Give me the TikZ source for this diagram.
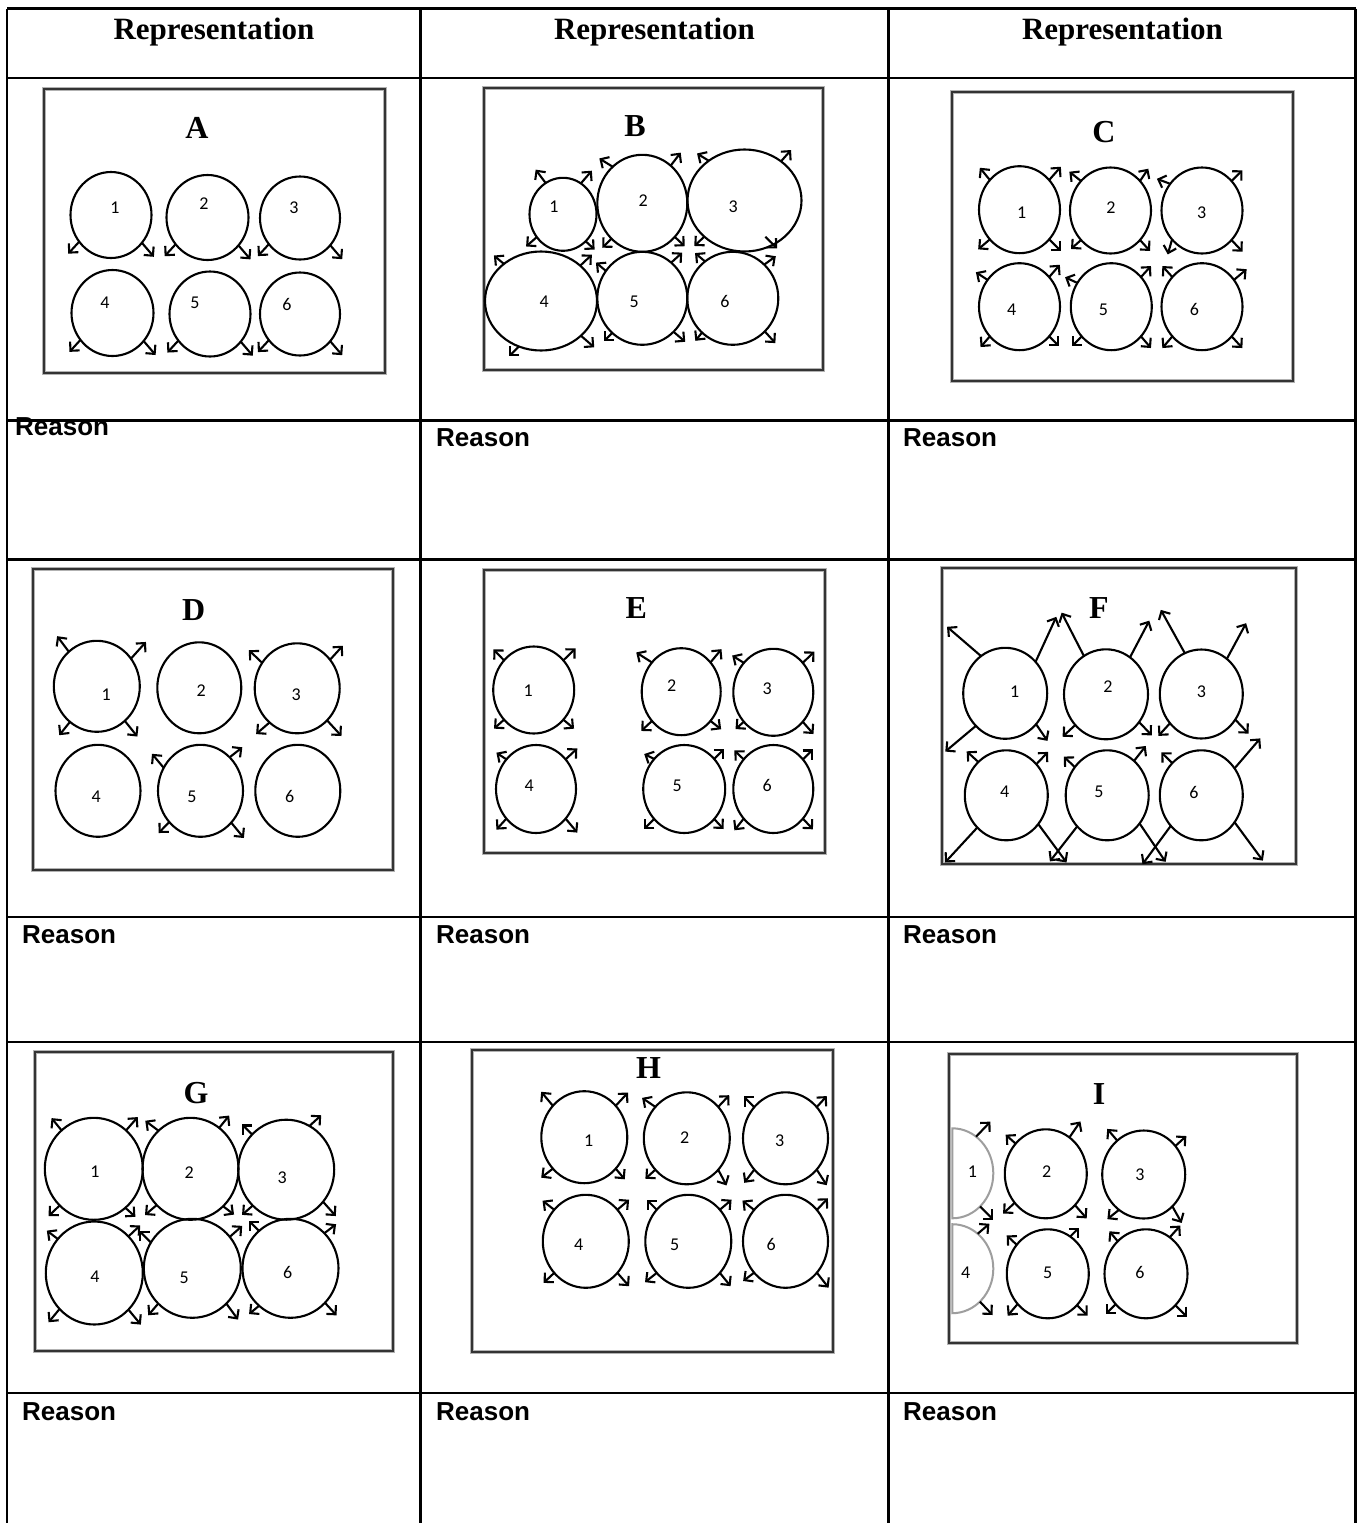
\documentclass[tikz,border=0pt]{standalone}
\usepackage{fontspec}
\setmainfont{Liberation Serif}
\newfontfamily\rsans{Liberation Sans}
\newfontfamily\numf{Carlito}
\usetikzlibrary{shapes.geometric,arrows.meta,calc}
\tikzset{
  cel/.style={ellipse, draw, line width=2.1pt, inner sep=0pt, outer sep=0pt},
  ghost/.style={ellipse, draw=none, inner sep=0pt, outer sep=0pt},
  halfc/.style={draw=black!38, line width=2pt},
  arr/.style={line width=2.1pt, -{Straight Barb[length=6.5pt,width=13pt]}},
  numtxt/.style={font=\numf\fontsize{18}{18}\selectfont, inner sep=0pt},
  ltr/.style={font=\bfseries\fontsize{32}{32}\selectfont, inner sep=0pt, anchor=base},
  hdr/.style={font=\bfseries\fontsize{31}{31}\selectfont, inner sep=0pt, anchor=base},
  rsn/.style={font=\rsans\bfseries\fontsize{26}{26}\selectfont, inner sep=0pt, anchor=base west},
  tbl/.style={line width=2.3pt, black},
  pshadow/.style={draw=black!30, line width=3.8pt},
  pline/.style={draw=black!80, line width=1.8pt},
}
\newcommand\Cir[5]{\node[cel, minimum width=#4pt, minimum height=#5pt] (#1) at (#2,#3) {};}
\newcommand\Num[4]{\node[numtxt] (n#1) at (#2,#3) {#4};}
\newcommand\Arws[2]{\foreach \a/\dx/\dy in {#2}{\draw[arr] (#1.\a) -- ++(\dx,\dy);}}
\newcommand\Pbox[5]{\draw[pshadow] (#2,#3) rectangle (#4,#5); \draw[pline] (#2,#3) rectangle (#4,#5);
  \coordinate (#1) at (#2,#3);}
\begin{document}
\begin{tikzpicture}[x=1pt,y=-1pt]
\useasboundingbox (0,0) rectangle (1363,1523);
\fill[white] (0,0) rectangle (1363,1523);

% ---------- texts ----------
\node[hdr] (h1) at (214,39.5) {Representation};
\node[hdr] (h2) at (654.5,39.5) {Representation};
\node[hdr] (h3) at (1122.5,39.5) {Representation};

\node[rsn] (r11) at (15,435) {Reason};
\node[rsn] (r12) at (436,446.5) {Reason};
\node[rsn] (r13) at (903,446.5) {Reason};
\node[rsn] (r21) at (22,943.5) {Reason};
\node[rsn] (r22) at (436,943.5) {Reason};
\node[rsn] (r23) at (903,943.5) {Reason};
\node[rsn] (r31) at (22,1420.5) {Reason};
\node[rsn] (r32) at (436,1420.5) {Reason};
\node[rsn] (r33) at (903,1420.5) {Reason};

% ---------- table ----------
\foreach \yy in {8.5,78,420.5,559.5,917,1042,1393}{\draw[tbl] (7,\yy) -- (1355.5,\yy);}
\foreach \xx in {7,420.5,888.5,1355.5}{\draw[tbl] (\xx,8.5) -- (\xx,1523);}

% ---------- panel boxes ----------
\Pbox{pA}{44}{89}{385}{373.3}
\Pbox{pB}{484}{88.3}{823.3}{370}
\Pbox{pC}{951.7}{92}{1293.3}{380.7}
\Pbox{pD}{33}{569}{393}{870}
\Pbox{pE}{484}{570}{825}{853.3}
\Pbox{pF}{942}{568}{1296.3}{863.7}
\Pbox{pG}{35}{1052}{393.3}{1351.3}
\Pbox{pH}{472}{1050}{833}{1351.7}
\Pbox{pI}{949}{1054}{1296.7}{1343.3}

% ---------- panel letters ----------
\node[ltr] (LA) at (197,138) {A};
\node[ltr] (LB) at (635,136.7) {B};
\node[ltr] (LC) at (1104,142) {C};
\node[ltr] (LD) at (193.7,620) {D};
\node[ltr] (LE) at (636.3,618.3) {E};
\node[ltr] (LF) at (1099,618.7) {F};
\node[ltr] (LG) at (196,1103) {G};
\node[ltr] (LH) at (648.5,1078) {H};
\node[ltr] (LI) at (1099,1104) {I};

% ---------- A ----------
\Cir{A1}{111}{215}{81}{86}
\Cir{A2}{207.5}{217.5}{82}{85}
\Cir{A3}{300}{218}{80}{83}
\Cir{A4}{112.5}{313}{82}{86}
\Cir{A5}{210}{314}{81}{85}
\Cir{A6}{300}{314}{80}{83}
\Num{A1}{115}{208}{1}\Num{A2}{204}{204}{2}\Num{A3}{294}{208}{3}
\Num{A4}{105}{303}{4}\Num{A5}{195}{303}{5}\Num{A6}{287}{304}{6}
\foreach \c in {A1,A2,A3,A4,A5,A6}{\Arws{\c}{220/-11/12, 318/12/14}}

% ---------- B ----------
\Cir{B1}{563}{214.3}{67}{73}
\Cir{B2}{642.3}{203.3}{90}{97}
\Cir{B3}{744.5}{200.5}{114}{102}
\Cir{B4}{541}{301}{112}{99}
\Cir{B5}{642.3}{298.3}{90}{93}
\Cir{B6}{732.8}{298.3}{91}{93}
\Num{B1}{554}{206.7}{1}\Num{B2}{643.3}{201}{2}\Num{B3}{733.3}{206.7}{3}
\Num{B4}{544.3}{301.7}{4}\Num{B5}{634.3}{301.7}{5}\Num{B6}{725}{301.7}{6}
\Arws{B1}{119/-10/-13.4, 60/11/-12.7, 221/-10.7/9.4, 310/9/8.3}
\Arws{B2}{129/-13.4/-8.3, 53/10/-13, 229/-9.3/9, 314/10/9.3}
\Arws{B3}{132/-11.7/-7.3, 47/10/-11.3, 222/-10/9.3}
\draw[arr] ($(B3.center)!0.8!(B3.300)$) -- ++(11.7,11.6);
\Arws{B4}{135/-10/-8.4, 42/11.6/-11, 319/13.3/11.6, 244/-10/10}
\Arws{B5}{143/-10/-8.3, 51/11/-10, 229/-8.3/8.3, 313/11.7/10}
\Arws{B6}{127/-10/-8.4, 47/11.6/-8.4, 228/-6.6/8.3, 314/10.6/11.7}

% ---------- C ----------
\Cir{C1}{1019.5}{209.7}{81}{87}
\Cir{C2}{1110.5}{210.5}{81}{86}
\Cir{C3}{1202}{210.5}{81}{86}
\Cir{C4}{1019.5}{306.7}{81}{87}
\Cir{C5}{1111.3}{306.7}{81}{87}
\Cir{C6}{1202}{306.7}{81}{87}
\Num{C1}{1021.7}{213}{1}\Num{C2}{1111}{208}{2}\Num{C3}{1201.7}{213}{3}
\Num{C4}{1011.7}{309.7}{4}\Num{C5}{1103.3}{309.7}{5}\Num{C6}{1194.3}{309.7}{6}
\Arws{C1}{135/-10/-12.3, 45/11.7/-13.3, 225/-11.7/10, 315/11.7/11.7}
\Arws{C2}{135/-11.7/-9.3, 45/8.3/-12.3, 225/-10/9, 315/10/11}
\Arws{C3}{140/-13.3/-5, 45/11/-10.7, 224/-4.3/15, 315/11/11.7}
\Arws{C4}{140/-11.7/-7.7, 45/10.7/-12.3, 225/-9.3/10.7, 315/10/10}
\Arws{C5}{145/-12.3/-5.7, 45/10/-11, 225/-10/10, 315/10/11.7}
\Arws{C6}{135/-10/-11, 40/12.7/-10.7, 225/-10/11.7, 315/10.7/11.7}

% ---------- D ----------
\Cir{D1}{96.8}{686.3}{86}{91}
\Cir{D2}{199.3}{687.8}{84}{91}
\Cir{D3}{297.2}{688.3}{85}{90}
\Cir{D4}{98}{790.8}{85}{92}
\Cir{D5}{200.5}{790.8}{85}{92}
\Cir{D6}{297.8}{790.8}{85}{92}
\Num{D1}{106.3}{695}{1}\Num{D2}{201.3}{691}{2}\Num{D3}{296.3}{695}{3}
\Num{D4}{96.3}{796.7}{4}\Num{D5}{192}{796.7}{5}\Num{D6}{289.7}{796.7}{6}
\Arws{D1}{129/-11.7/-15.6, 39/15/-16.7, 233/-10.7/13.3, 309/12.6/15.7}
\Arws{D3}{144/-13.3/-12.7, 41/12.7/-14, 231/-13.4/11.6, 313/14.4/15.7}
\Arws{D5}{148/-11.7/-14, 49/12.7/-10, 225/-10.7/11, 314/12.7/15.4}

% ---------- E ----------
\Cir{E1}{533.7}{690}{81}{87}
\Cir{E2}{681.2}{691.7}{79}{87}
\Cir{E3}{773.3}{692.3}{80}{87}
\Cir{E4}{536}{789}{80}{88}
\Cir{E5}{684.2}{789}{82}{88}
\Cir{E6}{773.3}{789}{80}{88}
\Num{E1}{528.3}{691}{1}\Num{E2}{671.7}{685.7}{2}\Num{E3}{767.3}{689}{3}
\Num{E4}{529.3}{785.7}{4}\Num{E5}{677.3}{785.7}{5}\Num{E6}{767.3}{785.7}{6}
\Arws{E1}{135/-10.7/-11, 45/12.3/-12, 225/-10/9, 315/10.7/9}
\Arws{E2}{135/-15.7/-10, 45/11/-13.3, 225/-10.7/10, 315/10.7/8.3}
\Arws{E3}{135/-11.7/-7.3, 45/11.7/-11.3, 225/-8.3/7.3, 315/10.7/12.3}
\Arws{E4}{135/-10/-6.7, 45/11.7/-11, 225/-10/11, 315/11.7/14}
\Arws{E5}{135/-10/-5, 45/10/-10, 225/-10/10, 315/9.3/10}
\Arws{E6}{135/-9.3/-9, 45/10/-10, 225/-9.3/11.7, 315/10/10.7}

% ---------- F ----------
\Cir{F1}{1005.2}{693.3}{84}{91}
\Cir{F2}{1106}{694.3}{84}{90}
\Cir{F3}{1201.3}{694}{83}{89}
\Cir{F4}{1006.3}{795.3}{83}{90}
\Cir{F5}{1107.2}{795.3}{83}{90}
\Cir{F6}{1201.3}{795.3}{83}{90}
\Num{F1}{1014.7}{692}{1}\Num{F2}{1108}{687}{2}\Num{F3}{1201.3}{692}{3}
\Num{F4}{1004.7}{792}{4}\Num{F5}{1099}{792}{5}\Num{F6}{1194}{792}{6}
\Arws{F1}{123/-34/-29.3, 46/20.7/-45, 228/-30.6/25.7, 315/11.4/16.7}
\Arws{F2}{120/-22.3/-43.4, 57/19.3/-36.7, 225/-12.7/11.7, 320/12.7/13.3}
\Arws{F3}{112/-24/-43.3, 54/19.3/-35.7, 223/-11.6/12.7, 323/13.3/14}
\Arws{F4}{130/-11.7/-10.7, 46/11.7/-12.3, 228/-32.3/35, 318/28.3/38.4}
\Arws{F5}{139/-11/-10.6, 52/11.7/-15, 226/-27.3/35, 319/26/38.4}
\Arws{F6}{132/-11/-10.7, 39/25.7/-30, 225/-28.3/38.4, 321/28.3/38.4}

% ---------- G ----------
\Cir{G1}{93.8}{1168.8}{98}{102}
\Cir{G2}{190.5}{1168.8}{96}{102}
\Cir{G3}{286.2}{1169.7}{96}{100}
\Cir{G4}{94.3}{1273}{97}{103}
\Cir{G5}{192.3}{1268.3}{97}{99}
\Cir{G6}{290.5}{1268.3}{96}{99}
\Num{G1}{95}{1172}{1}\Num{G2}{189.3}{1173}{2}\Num{G3}{282.3}{1177.3}{3}
\Num{G4}{95}{1276.3}{4}\Num{G5}{184.3}{1278}{5}\Num{G6}{287.7}{1272}{6}
\Arws{G1}{130/-10/-12.3, 50/11.7/-13.3, 227/-11/10.7, 309/10/9}
\Arws{G2}{130/-13.3/-10, 55/10/-12.3, 227/-11.7/10, 311/11/8.3}
\Arws{G3}{134/-10/-10, 62/11.7/-10.7, 227/-10.7/9.3, 319/12.7/14.3}
\Arws{G4}{137/-11/-8.4, 47/11.7/-11, 226/-11/13.3, 313/12.4/15}
\Arws{G5}{148/-11.6/-11.6, 40/12.4/-11, 226/-10/11.7, 314/11.7/16}
\Arws{G6}{130/-10/-10, 46/11.7/-9, 230/-10/8.3, 315/11.6/12.6}

% ---------- H ----------
\Cir{H1}{584.3}{1137.2}{86}{92}
\Cir{H2}{686.8}{1138.3}{86}{92}
\Cir{H3}{785.5}{1138.3}{85}{92}
\Cir{H4}{585.8}{1241.3}{86}{93}
\Cir{H5}{688.3}{1241.3}{86}{93}
\Cir{H6}{785.5}{1241.3}{85}{93}
\Num{H1}{588.7}{1141}{1}\Num{H2}{684.7}{1137.7}{2}\Num{H3}{779.7}{1141}{3}
\Num{H4}{578.7}{1244.3}{4}\Num{H5}{674.7}{1244.3}{5}\Num{H6}{771.3}{1244.3}{6}
\Arws{H1}{135/-11.7/-14, 45/12.3/-13.3, 225/-11.7/9, 315/9/10.7}
\Arws{H2}{135/-13.3/-9, 45/11/-11.7, 225/-10/9, 315/8.3/15.7}
\Arws{H3}{135/-10.7/-10.7, 45/10/-11, 225/-10/13.3, 315/10/15.7}
\Arws{H4}{135/-11.7/-9, 45/11.7/-10, 225/-10.7/10, 315/11.7/13.3}
\Arws{H5}{135/-10/-10, 45/11.7/-10, 225/-11.7/9.3, 315/10.7/13.3}
\Arws{H6}{135/-11.7/-9.3, 45/11/-11.7, 225/-11/8.3, 315/11.7/15}

% ---------- I ----------
\node[ghost, minimum width=82pt, minimum height=90pt] (I1) at (952.3,1173.3) {};
\node[ghost, minimum width=82pt, minimum height=89pt] (I4) at (952.3,1268.7) {};
\draw[halfc] (I1.north) arc[start angle=-90, end angle=90, x radius=41, y radius=45] -- cycle;
\draw[halfc] (I4.north) arc[start angle=-90, end angle=90, x radius=41, y radius=44.5] -- cycle;
\Cir{I2}{1045.8}{1173.8}{82}{89}
\Cir{I3}{1143.7}{1174.5}{83}{88}
\Cir{I5}{1047.8}{1273.8}{82}{89}
\Cir{I6}{1146}{1273.8}{83}{89}
\Num{I1}{972.3}{1171.7}{1}\Num{I2}{1046.7}{1171.7}{2}\Num{I3}{1140}{1175}{3}
\Num{I4}{965.7}{1272.7}{4}\Num{I5}{1047.7}{1272.7}{5}\Num{I6}{1140}{1272.7}{6}
\Arws{I1}{57/14.3/-15, 310/13.3/13.3}
\Arws{I4}{54/11.7/-10, 310/12.6/13.4}
\Arws{I2}{135/-10/-9, 57/11/-16, 223/-11.6/10.7, 313/11.7/13.3}
\Arws{I3}{128/-10/-11.7, 42/11/-10, 235/-11.6/9.3, 312/9.3/16.6}
\Arws{I5}{137/-10/-9.4, 59/9/-9, 225/-10/11.7, 313/10.7/10.6}
\Arws{I6}{131/-8.3/-10, 57/10.6/-11.7, 225/-10/10, 313/11.7/11.7}
\end{tikzpicture}
\end{document}
